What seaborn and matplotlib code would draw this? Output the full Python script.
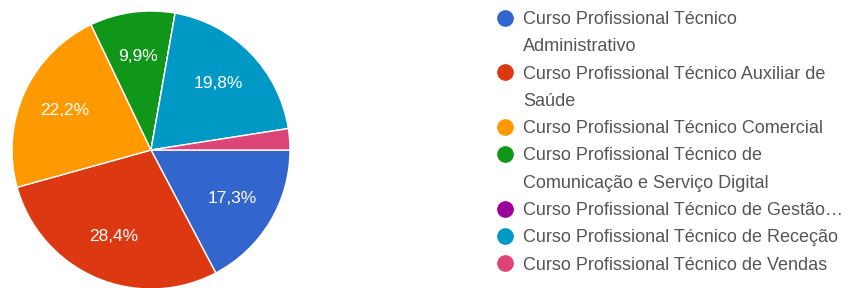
import matplotlib
matplotlib.use("Agg")
import matplotlib.pyplot as plt
from matplotlib.lines import Line2D
import seaborn as sns

# responses per course (81 answers in total)
courses = [
    "Curso Profissional Técnico\nAdministrativo",
    "Curso Profissional Técnico Auxiliar de\nSaúde",
    "Curso Profissional Técnico Comercial",
    "Curso Profissional Técnico de\nComunicação e Serviço Digital",
    "Curso Profissional Técnico de Gestão…",
    "Curso Profissional Técnico de Receção",
    "Curso Profissional Técnico de Vendas",
]
counts = [14, 23, 18, 8, 0, 16, 2]
colors = ["#3366CC", "#DC3912", "#FF9900", "#109618", "#990099", "#0099C6", "#DD4477"]

sns.set_theme(style="white")
plt.rcParams["font.family"] = ["Liberation Sans", "DejaVu Sans"]

fig = plt.figure(figsize=(8.53, 2.88), dpi=100)
ax = fig.add_axes([12 / 853, -1 / 288, 278 / 853, 278 / 288])


def pct_label(p):
    # Google Forms style: comma as decimal separator, small slices unlabeled
    return f"{p:.1f}%".replace(".", ",") if p >= 5 else ""


wedges, texts, autotexts = ax.pie(
    counts, colors=colors, startangle=0, counterclock=False,
    autopct=pct_label, pctdistance=0.68,
    wedgeprops=dict(edgecolor="white", linewidth=1),
    textprops=dict(color="white", fontsize=12.5),
)
ax.set_xlim(-1, 1)
ax.set_ylim(-1, 1)
ax.set_aspect("equal")

# one legend row per text line so the marker sits on the first line of a wrapped label
handles, labels = [], []
for name, c in zip(courses, colors):
    for i, line in enumerate(name.split("\n")):
        if i == 0:
            handles.append(Line2D([], [], marker="o", linestyle="", color=c, markersize=11))
        else:
            handles.append(Line2D([], [], linestyle="", marker=None))
        labels.append(line)

fig.legend(
    handles, labels, loc="upper left",
    bbox_to_anchor=(496 / 853, 1 - 11 / 288),
    frameon=False, fontsize=13, borderpad=0, borderaxespad=0,
    handlelength=1.0, handletextpad=0.5, labelspacing=0.57,
    labelcolor="#555555",
)

fig.savefig("out.png", dpi=100)
